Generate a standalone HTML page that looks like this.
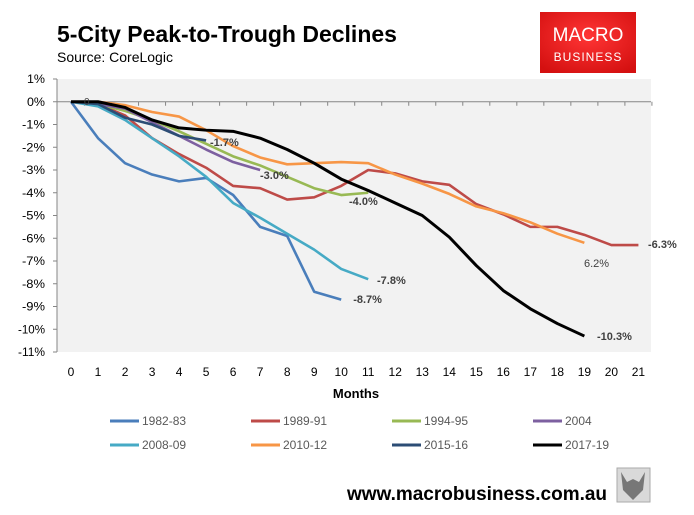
<!DOCTYPE html>
<html><head><meta charset="utf-8"><style>
body{margin:0;background:#fff;font-family:"Liberation Sans",sans-serif}
svg{display:block}
</style></head><body>
<svg width="694" height="515" viewBox="0 0 694 515" xmlns="http://www.w3.org/2000/svg">
<rect x="0" y="0" width="694" height="515" fill="#fff"/>
<text x="57" y="42" font-size="23" font-weight="bold" fill="#000">5-City Peak-to-Trough Declines</text>
<text x="57" y="62" font-size="14" fill="#000">Source: CoreLogic</text>
<rect x="57" y="79" width="594" height="273" fill="#f2f2f2"/>
<g>
<defs><radialGradient id="lg" cx="50%" cy="40%" r="70%"><stop offset="0" stop-color="#ff3535"/><stop offset="1" stop-color="#d41010"/></radialGradient></defs>
<rect x="540" y="12" width="96" height="61" fill="url(#lg)"/>
<text x="588" y="41" font-size="19" fill="#fff" text-anchor="middle">MACRO</text>
<text x="588" y="61" font-size="12" fill="#fff" text-anchor="middle" letter-spacing="1">BUSINESS</text>
</g>
<g id="axes"></g>
<g id="series"></g>
<g id="labels"></g>
<text x="356" y="398" font-size="13" font-weight="bold" text-anchor="middle">Months</text>
<g id="legend"></g>
<text x="477" y="500" font-size="19" font-weight="bold" text-anchor="middle">www.macrobusiness.com.au</text>
<g>
<rect x="617" y="468" width="33" height="34" fill="#d9d9d9" stroke="#aaa"/>
<path d="M621 472 L627 482 L633 479 L639 482 L645 472 L643 490 L633 500 L623 490 Z" fill="#777"/>
</g>
</svg>
<script>
const months=[0,1,2,3,4,5,6,7,8,9,10,11,12,13,14,15,16,17,18,19,20,21];
const yTicks=[1,0,-1,-2,-3,-4,-5,-6,-7,-8,-9,-10,-11];
const seriesNames=["1982-83","1989-91","1994-95","2004","2008-09","2010-12","2015-16","2017-19"];
const seriesColors=["#4a7ebb","#be4b48","#98b954","#7d60a0","#46aac5","#f79646","#2c4d75","#000000"];
const s1982=[0,-1.6,-2.7,-3.2,-3.5,-3.35,-4.1,-5.5,-5.9,-8.35,-8.7];
const s1989=[0,-0.1,-0.6,-1.6,-2.3,-2.9,-3.7,-3.8,-4.3,-4.2,-3.7,-3.0,-3.15,-3.5,-3.65,-4.5,-4.95,-5.5,-5.5,-5.85,-6.3,-6.3];
const s1994=[0,-0.1,-0.4,-0.8,-1.3,-1.85,-2.4,-2.8,-3.3,-3.8,-4.1,-4.0];
const s2004=[0,-0.1,-0.3,-0.9,-1.5,-2.1,-2.65,-3.0];
const s2008=[0,-0.2,-0.8,-1.6,-2.4,-3.3,-4.45,-5.1,-5.8,-6.5,-7.35,-7.8];
const s2010=[0,0,-0.15,-0.45,-0.65,-1.25,-1.95,-2.45,-2.75,-2.7,-2.65,-2.7,-3.2,-3.6,-4.05,-4.6,-4.9,-5.3,-5.8,-6.2];
const s2015=[0,-0.1,-0.7,-1.0,-1.5,-1.7];
const s2017=[0,0,-0.25,-0.8,-1.15,-1.25,-1.3,-1.6,-2.1,-2.7,-3.4,-3.9,-4.45,-5.0,-5.95,-7.2,-8.3,-9.1,-9.75,-10.3];
const allSeries=[s1982,s1989,s1994,s2004,s2008,s2010,s2015,s2017];
const endLabels=["-8.7%","-6.3%","-4.0%","-3.0%","-7.8%","6.2%","-1.7%","-10.3%"];
const NS="http://www.w3.org/2000/svg";
const X=m=>71+m*27.02;
const Y=v=>101.75-v*22.75;
function mk(tag,attrs,parent){const e=document.createElementNS(NS,tag);for(const k in attrs)e.setAttribute(k,attrs[k]);parent.appendChild(e);return e;}
const ax=document.getElementById('axes');
const yAxis=mk('line',{x1:57,y1:Y(1),x2:57,y2:Y(-11),stroke:'#868686'},ax);


const xAxis=mk('line',{x1:57,y1:Y(0),x2:651,y2:Y(0),stroke:'#868686'},ax);


yTicks.forEach(v=>{
 mk('line',{x1:53,y1:Y(v),x2:57,y2:Y(v),stroke:'#868686'},ax);
 const t=mk('text',{x:45,y:Y(v)+4,'font-size':12,'text-anchor':'end',fill:'#000','textLength':v<=-10?27:(v<0?23:18),'lengthAdjust':'spacingAndGlyphs'},ax);
 t.textContent=v+'%';
 
 
});
months.forEach(m=>{
 const tx=X(m)+13.5;
 mk('line',{x1:tx,y1:Y(0),x2:tx,y2:Y(0)+4,stroke:'#868686'},ax);
 const t=mk('text',{x:X(m),y:376,'font-size':12,'text-anchor':'middle',fill:'#000'},ax);
 t.textContent=m;
 
 
});
const sg=document.getElementById('series');
allSeries.forEach((s,i)=>{
 const p=mk('polyline',{points:s.map((v,m)=>X(m)+','+Y(v)).join(' '),fill:'none',stroke:seriesColors[i],'stroke-width':i==7?3:2.6,'stroke-linejoin':'round'},sg);
 
 
});
const lg=document.getElementById('labels');
const labPos=[[0,303],[648,248],[349,205],[260,179],[377,284],[584,267],[210,146],[597,340]];
allSeries.forEach((s,i)=>{
 const lx=i==0?X(s.length-1)+12:labPos[i][0];
 const t=mk('text',{x:lx,y:labPos[i][1],'font-size':11,'font-weight':i==5?'normal':'bold',fill:'#404040'},lg);
 t.textContent=endLabels[i];
 
 
});
const z=mk('text',{x:84,y:105,'font-size':10,fill:'#404040'},lg);
z.textContent='0';


const leg=document.getElementById('legend');
seriesNames.forEach((n,i)=>{
 const cx=110+(i%4)*141, cy=i<4?421:445;
 const g=mk('g',{},leg);
 
 
 mk('line',{x1:cx,y1:cy,x2:cx+29,y2:cy,stroke:seriesColors[i],'stroke-width':3},g);
 const t=mk('text',{x:cx+32,y:cy+4,'font-size':12,fill:'#595959'},g);
 t.textContent=n;
});
</script>
</body></html>
